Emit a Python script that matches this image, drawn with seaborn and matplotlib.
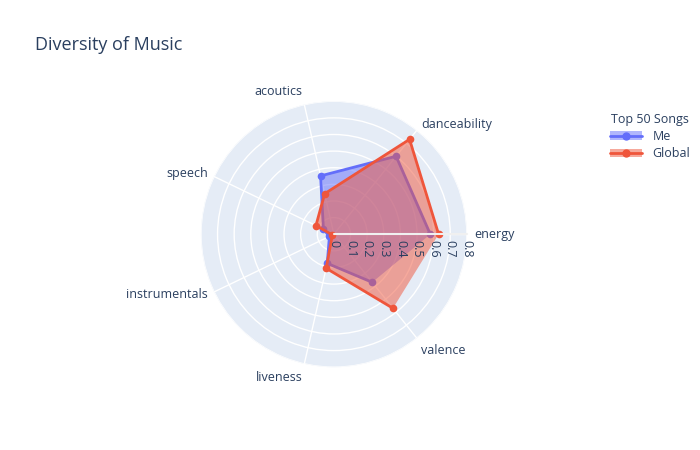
import numpy as np
import pandas as pd
import matplotlib.pyplot as plt
import seaborn as sns
from matplotlib.lines import Line2D
from matplotlib.patches import Patch

categories = ['energy', 'danceability', 'acoutics', 'speech', 'instrumentals', 'liveness', 'valence']
me = [0.58, 0.60, 0.36, 0.07, 0.03, 0.18, 0.37]
global_top = [0.63, 0.73, 0.25, 0.12, 0.01, 0.21, 0.57]
r_ticks = [0, 0.1, 0.2, 0.3, 0.4, 0.5, 0.6, 0.7, 0.8]

sns.set_theme(style="white")
plt.rcParams['font.family'] = ['Open Sans', 'DejaVu Sans']
text_col = '#2a3f5f'

angles = np.linspace(0, 2 * np.pi, len(categories), endpoint=False)

fig = plt.figure(figsize=(7, 4.5), dpi=100)
ax = fig.add_axes([0.287, 0.184, 0.38, 0.591], projection='polar')
ax.set_facecolor('#E5ECF6')
ax.spines['polar'].set_visible(False)
ax.set_ylim(0, 0.8)

# grid
ax.set_xticks(angles)
ax.set_xticklabels([])
ax.set_yticks(r_ticks[1:])
ax.set_yticklabels([])
ax.grid(True, color='white', linewidth=1)

def closed(vals):
    return np.append(vals, vals[0])

th = closed(angles)
series = [('Me', me, '#636EFA'), ('Global', global_top, '#EF553B')]
for i, (name, vals, col) in enumerate(series):
    df = pd.DataFrame({'theta': th, 'r': closed(vals)})
    ax.fill(df['theta'], df['r'], color=col, alpha=0.5, linewidth=0, zorder=2 + 2 * i)
    sns.lineplot(data=df, x='theta', y='r', sort=False, color=col, marker='o',
                 markersize=5.5, markeredgewidth=0, linewidth=2, ax=ax, zorder=3 + 2 * i)
ax.set_xlabel('')
ax.set_ylabel('')

# radial axis line + labels
ax.plot([0, 0], [0, 0.8], color='#f0f0f0', linewidth=1.5, zorder=8, clip_on=False)
for t in r_ticks:
    ax.annotate(f'{t:g}', xy=(0, t), xytext=(0, -4), textcoords='offset points',
                rotation=-90, ha='center', va='top', fontsize=9, color=text_col, zorder=10)

# angular labels
for a, lab in zip(angles, categories):
    c, s = np.cos(a), np.sin(a)
    ha = 'left' if c > 0.05 else ('right' if c < -0.05 else 'center')
    va = 'bottom' if s > 0.9 else ('top' if s < -0.7 else 'center')
    ax.annotate(lab, xy=(a, 0.8), xytext=(5 * c, 5 * s), textcoords='offset points',
                ha=ha, va=va, fontsize=9, color=text_col, annotation_clip=False)

fig.text(0.05, 0.9, 'Diversity of Music', fontsize=13, color=text_col, va='center')

handles = [(Patch(facecolor=col, alpha=0.5, edgecolor='none'),
            Line2D([], [], color=col, marker='o', markersize=5, linewidth=2))
           for _, _, col in series]
leg = fig.legend(handles, [n for n, _, _ in series], title='Top 50 Songs',
                 loc='upper left', bbox_to_anchor=(0.855, 0.775), frameon=False,
                 fontsize=9, title_fontsize=9, handlelength=2.6, labelspacing=0.35)
for t in leg.get_texts():
    t.set_color(text_col)
leg.get_title().set_color(text_col)

fig.savefig('out.png', dpi=100)
